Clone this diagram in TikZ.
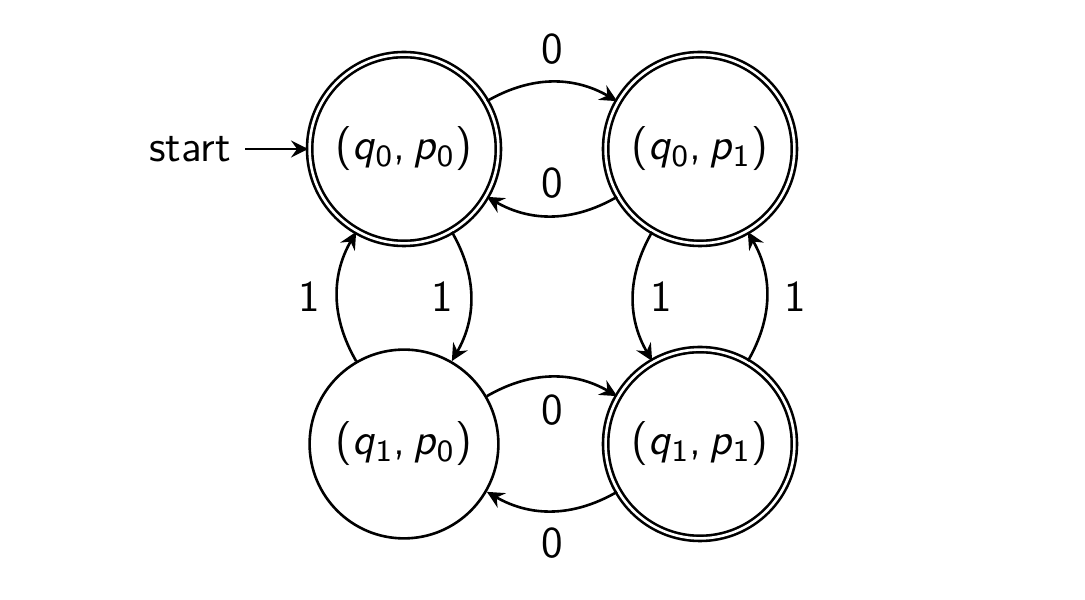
\documentclass[tikz,border=0pt]{standalone}
\usepackage{amsmath}
\usetikzlibrary{arrows.meta}
\renewcommand{\familydefault}{\sfdefault}
\newcommand{\pr}[4]{(\textsl{#1}$_{\textsf{#2}}$,\,\textsl{#3}$_{\textsf{#4}}$)}
\tikzset{
  state/.style={circle,draw,line width=0.65pt,minimum size=47.2pt,inner sep=0pt,font=\fontsize{11}{13}\selectfont\sffamily},
  acc/.style={state,double,double distance=0.65pt},
  edg/.style={line width=0.65pt,-{Stealth[length=4.3pt,width=4.2pt,inset=1.5pt]}},
  lab/.style={inner sep=4pt,font=\fontsize{11}{13}\selectfont\sffamily}
}
\begin{document}
\begin{tikzpicture}[x=1pt,y=1pt]
\useasboundingbox (0,0) rectangle (271.25,150);
\node[acc]   (A) at (101,112.75) {\pr{q}{0}{p}{0}};
\node[acc]   (B) at (175,112.75) {\pr{q}{0}{p}{1}};
\node[state] (C) at (101,39)     {\pr{q}{1}{p}{0}};
\node[acc]   (D) at (175,39)     {\pr{q}{1}{p}{1}};
\coordinate (S) at (61.25,112.75);
\node[lab,inner sep=3.33pt,anchor=east] (st) at (S) {start};
\draw[edg] (S) -- (A);
\path[edg] (A) edge[bend left] node[lab,above] {0} (B)
           (B) edge[bend left] node[lab,above] {0} (A)
           (C) edge[bend left] node[lab,below] {0} (D)
           (D) edge[bend left] node[lab,below] {0} (C)
           (A) edge[bend left] node[lab,left] {1} (C)
           (C) edge[bend left] node[lab,left] {1} (A)
           (B) edge[bend right] node[lab,right] {1} (D)
           (D) edge[bend right] node[lab,right] {1} (B);
\end{tikzpicture}
\end{document}
